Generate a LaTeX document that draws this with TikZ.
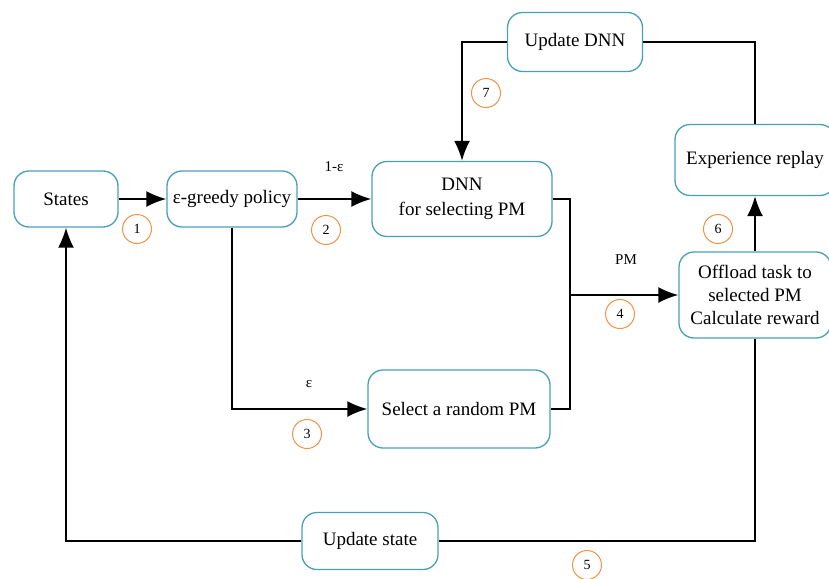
\documentclass[tikz,border=0pt]{standalone}
\usepackage{fontspec}
\setmainfont{Liberation Serif}
\usetikzlibrary{arrows.meta}
\definecolor{boxteal}{RGB}{72,160,182}
\definecolor{numorange}{RGB}{245,145,70}

\begin{document}
\begin{tikzpicture}[x=1pt, y=-1pt,
                    box/.style={draw=boxteal, line width=1.3pt, rounded corners=15pt, align=center,
                                font=\fontsize{19}{23}\selectfont, inner sep=2pt},
                    num/.style={circle, draw=numorange, line width=1pt, minimum size=29pt, inner sep=0pt,
                                font=\fontsize{14}{14}\selectfont},
                    lbl/.style={font=\fontsize{15}{15}\selectfont},
                    line/.style={line width=2pt, line join=miter},
                    arr/.style={line, -{Latex[length=20pt,width=16pt]}}]
  \useasboundingbox (0,0) rectangle (829,578);

  % boxes
  \node[box, minimum width=104pt, minimum height=56pt] (states) at (66,199) {States};
  \node[box, minimum width=130pt, minimum height=56pt] (greedy) at (232,199) {ε-greedy policy};
  \node[box, minimum width=180pt, minimum height=75pt] (dnn) at (462,199) {DNN\\[2pt]for selecting PM};
  \node[box, minimum width=182pt, minimum height=78pt] (rand) at (459,409) {Select a random PM};
  \node[box, minimum width=135pt, minimum height=59pt] (updnn) at (575,42) {Update DNN};
  \node[box, minimum width=160pt, minimum height=71pt] (replay) at (755,160) {Experience replay};
  \node[box, minimum width=152pt, minimum height=86pt] (offload) at (755,295) {Offload task to\\selected PM\\Calculate reward};
  \node[box, minimum width=136pt, minimum height=57pt] (upstate) at (370,541) {Update state};

  \coordinate (join) at (570,295);

  % connectors
  \draw[arr] (states) -- (greedy);
  \draw[arr] (greedy) -- (dnn);
  \draw[arr] (greedy.south) |- (rand.west);
  \draw[line] (dnn.east) -| (join) |- (rand.east);
  \draw[arr] (join) -- (offload.west);
  \draw[arr] (offload.north) -- (replay.south);
  \draw[line] (replay.north) |- (updnn.east);
  \draw[arr] (updnn.west) -| (dnn.north);
  \draw[line] (offload.south) |- (upstate.east);
  \draw[arr] (upstate.west) -| (states.south);

  % labels
  \node[lbl] (lbldnn) at (334,167) {1-ε};
  \node[lbl] (lblrand) at (309,384) {ε};
  \node[lbl] (lblpm) at (626,260) {PM};

  % step numbers
  \node[num] (n1) at (137,229) {1};
  \node[num] (n2) at (326,230) {2};
  \node[num] (n3) at (307,434) {3};
  \node[num] (n4) at (620,314) {4};
  \node[num] (n5) at (587,565) {5};
  \node[num] (n6) at (718,229) {6};
  \node[num] (n7) at (486,93) {7};
\end{tikzpicture}
\end{document}
